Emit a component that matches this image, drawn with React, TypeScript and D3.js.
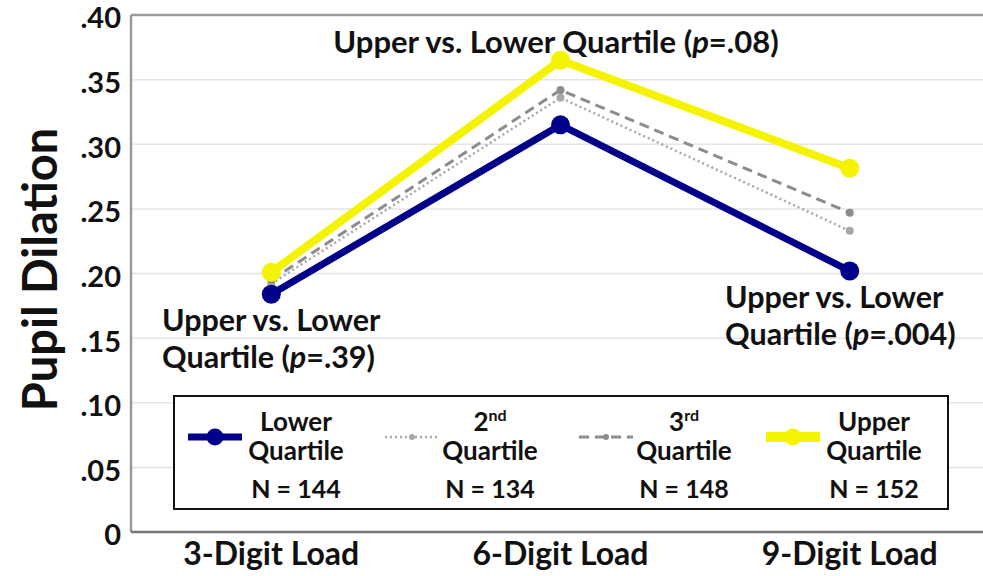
import React from "react";
import * as d3 from "d3";

// values
const loads = ["3-Digit Load", "6-Digit Load", "9-Digit Load"];
const lowerQ = [0.184, 0.315, 0.202];
const secondQ = [0.192, 0.336, 0.233];
const thirdQ = [0.195, 0.342, 0.247];
const upperQ = [0.201, 0.365, 0.2815];
const yTicks = [0, 0.05, 0.1, 0.15, 0.2, 0.25, 0.3, 0.35, 0.4];
const groupNames = ["Lower", "2", "3", "Upper"];
const groupSup = ["", "nd", "rd", ""];
const groupN = [144, 134, 148, 152];

const FONT = "Lato, 'Open Sans', sans-serif";

const W = 983;
const H = 576;
const left = 131;
const top = 15;
const bottom = 532;

const series = [
  { key: "lower", values: lowerQ, color: "#00008b", width: 7, r: 9.5, dash: null },
  { key: "second", values: secondQ, color: "#a8a8a8", width: 2.5, r: 4, dash: "2 3" },
  { key: "third", values: thirdQ, color: "#8c8c8c", width: 3, r: 4, dash: "10 6" },
  { key: "upper", values: upperQ, color: "#f4f400", width: 8, r: 9.5, dash: null },
];

export default function App() {
  const x = d3.scalePoint().domain(loads).range([left, 990]).padding(0.485);
  const y = d3.scaleLinear().domain([0, 0.4]).range([bottom, top]);
  const line = d3
    .line<number>()
    .x((_, i) => x(loads[i]) as number)
    .y((d) => y(d));

  // draw order: dotted/dashed under, then navy, yellow on top
  const order = [series[1], series[2], series[0], series[3]];
  const legendX = [215, 412, 606, 793];
  const legendText = [296, 490, 684, 874];

  const tickFmt = (v: number) => (v === 0 ? "0" : d3.format(".2f")(v).replace(/^0/, ""));

  return (
    <svg width={W} height={H} style={{ position: "absolute", left: 0, top: 0, background: "#fff" }} fontFamily={FONT}>
      <rect width={W} height={H} fill="#fff" />
      {/* grid */}
      {yTicks.slice(1, -1).map((t) => (
        <line key={t} x1={left} x2={W} y1={y(t)} y2={y(t)} stroke="#e4e4e4" strokeWidth={1.5} />
      ))}
      {/* frame */}
      <line x1={left} x2={W} y1={y(0.4)} y2={y(0.4)} stroke="#999" strokeWidth={2.5} />
      <line x1={left} x2={left} y1={y(0.4)} y2={y(0)} stroke="#999" strokeWidth={2.5} />
      <line x1={left} x2={W} y1={y(0)} y2={y(0)} stroke="#777" strokeWidth={2.5} />

      {/* y tick labels */}
      {yTicks.map((t) => (
        <text key={t} x={121} y={y(t) + 6} textAnchor="end" dominantBaseline="middle" fontSize={29} fontWeight={700} fill="#111">
          {tickFmt(t)}
        </text>
      ))}
      <text
        transform={`translate(45,${(top + bottom) / 2 - 4}) rotate(-90)`}
        textAnchor="middle"
        dominantBaseline="middle"
        fontSize={47}
        fontWeight={700}
        fill="#111"
      >
        Pupil Dilation
      </text>

      {/* x labels */}
      {loads.map((l) => (
        <text key={l} x={x(l)} y={565} textAnchor="middle" fontSize={32} fontWeight={700} fill="#111">
          {l}
        </text>
      ))}

      {/* series */}
      {order.map((s) => (
        <g key={s.key}>
          <path d={line(s.values) || ""} fill="none" stroke={s.color} strokeWidth={s.width} strokeDasharray={s.dash || undefined} />
          {s.values.map((v, i) => (
            <circle key={i} cx={x(loads[i])} cy={y(v)} r={s.r} fill={s.color} />
          ))}
        </g>
      ))}

      {/* annotations */}
      <text x={556} y={53} textAnchor="middle" fontSize={31} fontWeight={700} fill="#111">
        Upper vs. Lower Quartile (<tspan fontStyle="italic">p</tspan>=.08)
      </text>
      <text x={162} fontSize={30.5} fontWeight={700} fill="#111">
        <tspan x={162} y={331}>Upper vs. Lower</tspan>
        <tspan x={162} y={368}>Quartile (<tspan fontStyle="italic">p</tspan>=.39)</tspan>
      </text>
      <text x={725} fontSize={30.5} fontWeight={700} fill="#111">
        <tspan x={725} y={308}>Upper vs. Lower</tspan>
        <tspan x={725} y={345}>Quartile (<tspan fontStyle="italic">p</tspan>=.004)</tspan>
      </text>

      {/* legend */}
      <rect x={174} y={396} width={774} height={113} fill="#fff" stroke="#111" strokeWidth={2} />
      {series.map((s, i) => (
        <g key={s.key}>
          <line
            x1={legendX[i] - 27}
            x2={legendX[i] + 27}
            y1={437}
            y2={437}
            stroke={s.color}
            strokeWidth={s.key === "upper" ? 10 : s.width}
            strokeDasharray={s.dash || undefined}
          />
          <circle cx={legendX[i]} cy={437} r={s.r - 1} fill={s.color} />
          <text x={legendText[i]} y={431} textAnchor="middle" fontSize={26} fontWeight={700} fill="#111">
            {groupNames[i]}
            {groupSup[i] && (
              <tspan fontSize={16} dy={-10}>
                {groupSup[i]}
              </tspan>
            )}
          </text>
          <text x={legendText[i]} y={460} textAnchor="middle" fontSize={26} fontWeight={700} fill="#111">
            Quartile
          </text>
          <text x={legendText[i]} y={498} textAnchor="middle" fontSize={25} fontWeight={700} fill="#111">
            N = {groupN[i]}
          </text>
        </g>
      ))}
    </svg>
  );
}
